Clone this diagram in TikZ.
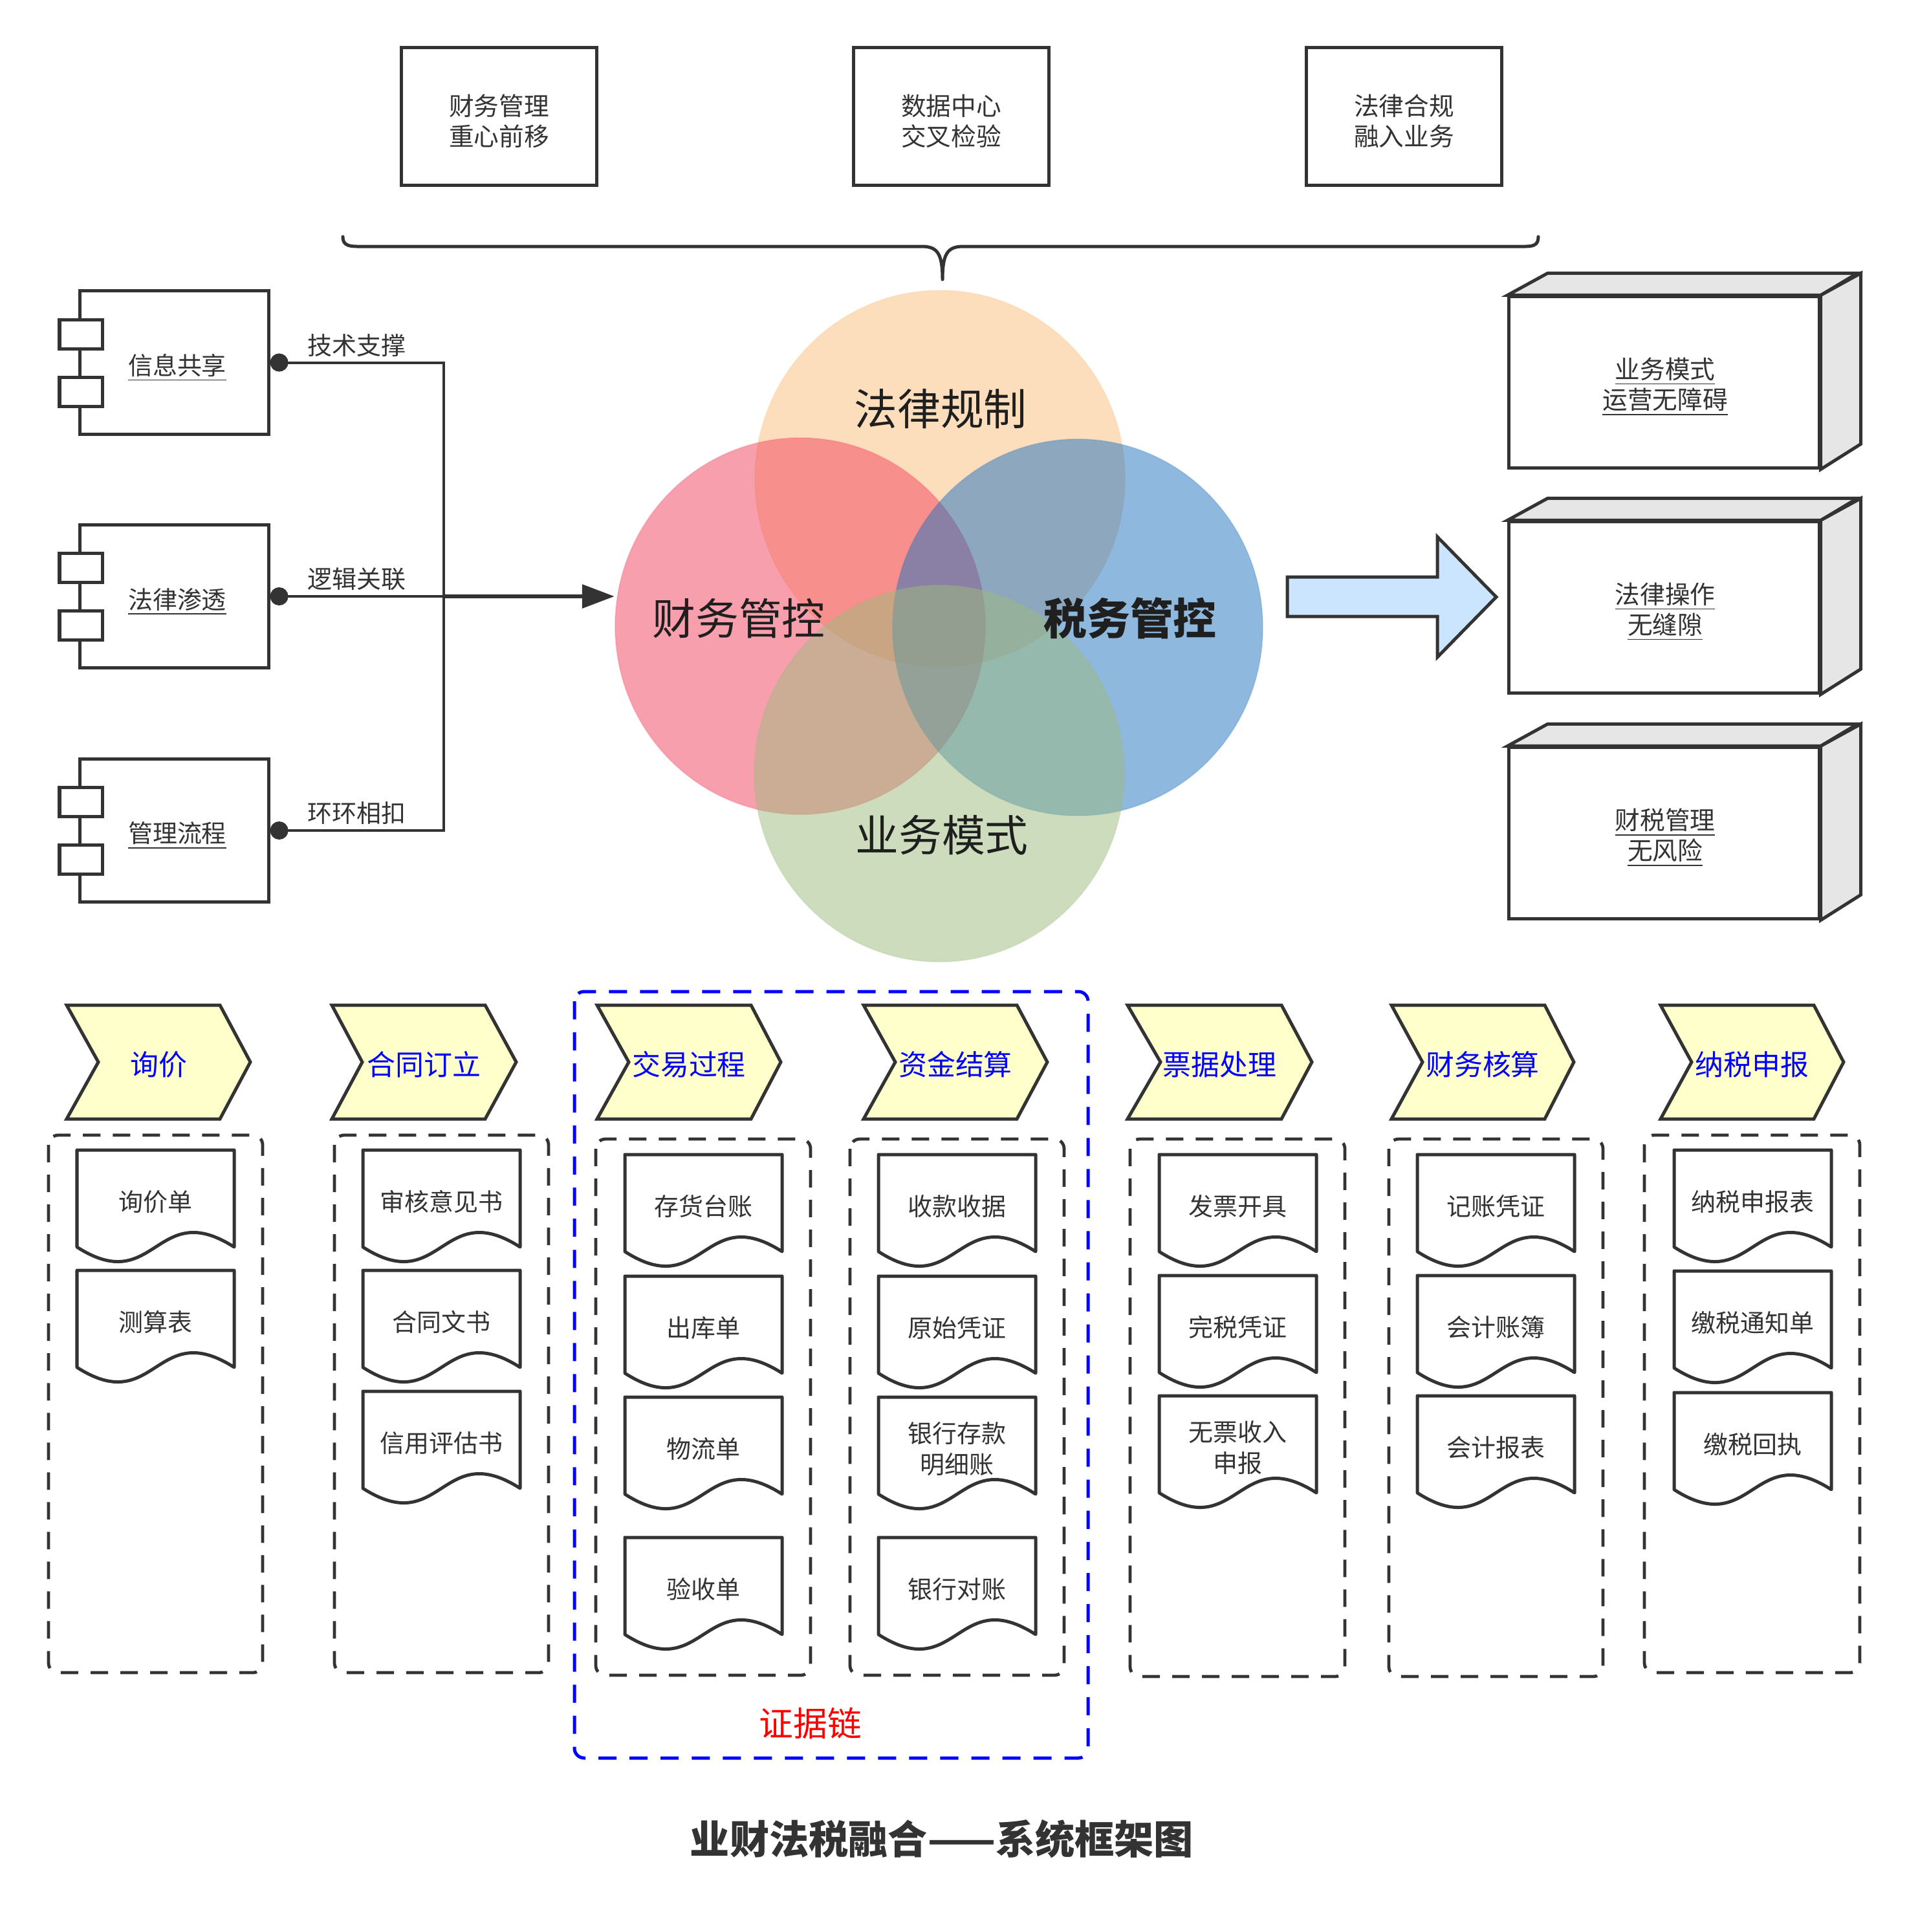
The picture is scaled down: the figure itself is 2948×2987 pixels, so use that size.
\documentclass[tikz,border=0pt]{standalone}
\usepackage{fontspec}
\setmainfont{Noto Sans CJK SC}
\usetikzlibrary{arrows.meta,shapes.geometric}
\definecolor{ln}{HTML}{333333}
\definecolor{chevY}{HTML}{FFFFCC}
\definecolor{arrowB}{HTML}{CCE5FF}
\definecolor{cubeG}{HTML}{E6E6E6}
\definecolor{vOrange}{HTML}{FBBF7D}
\definecolor{vPink}{HTML}{F3415D}
\definecolor{vBlue}{HTML}{1F73BF}
\definecolor{vGreen}{HTML}{9DBB7D}
\definecolor{pureblue}{HTML}{0000FF}
\definecolor{purered}{HTML}{FF0000}
\newcommand{\docbox}[4]{%
  \begin{scope}[shift={(#2,#3)}]
    \draw[docline] (0,0) -- (243,0) -- (243,150) .. controls (121.5,72) and (121.5,228) .. (0,150) -- cycle;
    \node[doctext] (#1) at (121.5,80) {#4};
  \end{scope}}
\newcommand{\chevron}[6]{% name, x0, x1(notch), x2, x3(tip), text
  \draw[chev] (#2,1554) -- (#4,1554) -- (#5,1642) -- (#4,1730) -- (#2,1730) -- (#3,1642) -- cycle;
  \node[chevtext] (#1) at ({(#2+#5)/2},1646) {#6};}
\begin{document}
\begin{tikzpicture}[x=0.01cm,y=-0.01cm,
  comp/.style={draw=ln, line width=0.05cm, minimum width=2.91cm, minimum height=2.21cm, inner sep=0pt, fill=white},
  comptext/.style={text=ln, inner sep=0pt, font=\fontsize{10.8}{13.5}\selectfont},
  smallrect/.style={draw=ln, line width=0.05cm, fill=white},
  lbl/.style={text=ln, font=\fontsize{10.8}{13.5}\selectfont, inner sep=2pt},
  conn/.style={draw=ln, line width=0.04cm},
  doctext/.style={align=center, text=ln, inner sep=0pt, font=\fontsize{10.8}{13.7}\selectfont},
  docline/.style={draw=ln, line width=0.05cm, fill=white, line join=round},
  chev/.style={draw=ln, line width=0.05cm, fill=chevY, line join=miter},
  chevtext/.style={text=pureblue, inner sep=0pt, font=\fontsize{12.5}{15}\selectfont},
  dbox/.style={draw=ln, line width=0.048cm, dash pattern=on 0.27cm off 0.19cm, rounded corners=0.15cm},
  bluebox/.style={draw=pureblue, line width=0.05cm, dash pattern=on 0.28cm off 0.2cm, rounded corners=0.15cm},
  cube/.style={draw=ln, line width=0.05cm, minimum width=4.79cm, minimum height=2.64cm, fill=white, inner sep=0pt},
  cubetext/.style={align=center, text=ln, inner sep=0pt, font=\fontsize{11}{13.4}\selectfont},
  cubeface/.style={draw=ln, line width=0.05cm, fill=cubeG, line join=miter},
  topbox/.style={draw=ln, line width=0.05cm, minimum width=3.01cm, minimum height=2.12cm, inner sep=0pt},
  toptext/.style={align=center, text=ln, inner sep=0pt, font=\fontsize{11}{13.4}\selectfont},
  venn/.style={ellipse, minimum width=5.72cm, minimum height=5.82cm, inner sep=0pt, fill opacity=0.5, draw opacity=0.15, line width=0.02cm},
  vtext/.style={text=black!88, inner sep=0pt, font=\fontsize{19}{22}\selectfont}
]
\useasboundingbox (0,0) rectangle (2948,2987);
\fill[white] (0,0) rectangle (2948,2987);

% top boxes
\foreach \n/\cx/\ta/\tb in {t1/771.5/财务管理/重心前移, t2/1470.5/数据中心/交叉检验, t3/2170.5/法律合规/融入业务}{
  \node[topbox] (\n) at (\cx,180) {};
  \node[toptext] (\n txt) at (\cx,187) {\ta\\\tb};
}

% brace
\draw[draw=ln, line width=0.05cm, line cap=round, line join=round]
  (530,366) .. controls (530,377) and (536,381) .. (552,381) -- (1425,381)
  .. controls (1449,381) and (1457,392) .. (1457,432)
  .. controls (1457,392) and (1465,381) .. (1489,381) -- (2358,381)
  .. controls (2373,381) and (2378,377) .. (2378,366);

% venn
\node[venn, fill=vOrange, draw=vOrange] (vO) at (1453,740) {};
\node[venn, fill=vPink, draw=vPink] (vP) at (1237,968) {};
\node[venn, fill=vBlue, draw=vBlue] (vB) at (1666,970) {};
\node[venn, fill=vGreen, draw=vGreen] (vG) at (1452,1196) {};
\node[vtext] (lO) at (1454,632) {法律规制};
\node[vtext] (lP) at (1142,956) {财务管控};
\node[vtext, font=\bfseries\fontsize{19}{22}\selectfont] (lB) at (1747,956) {税务管控};
\node[vtext] (lG) at (1456,1291) {业务模式};

% components on the left
\foreach \n/\cy/\t in {c1/560.5/信息共享, c2/922/法律渗透, c3/1284/管理流程}{
  \node[comp] (\n) at (269.5,\cy) {};
  \node[comptext] (\n txt) at (274,\cy+8) {\underline{\t}};
  \draw[smallrect] (92,\cy-66.5) rectangle (158,\cy-21.5);
  \draw[smallrect] (92,\cy+22.5) rectangle (158,\cy+67.5);
}
\coordinate (j) at (686,922);
\draw[conn, {Circle[length=0.28cm]}-] (c1.east) -| node[lbl, above, pos=0.25] {技术支撑} (j);
\draw[conn, {Circle[length=0.28cm]}-] (c3.east) -| node[lbl, above, pos=0.25] {环环相扣} (j);
\draw[conn, {Circle[length=0.28cm]}-] (c2.east) -- node[lbl, above] {逻辑关联} (j);
\draw[draw=ln, line width=0.06cm, -{Triangle[length=0.5cm,width=0.36cm]}] (j) -- (j -| vP.west);

% big arrow
\draw[draw=ln, line width=0.05cm, fill=arrowB, line join=miter]
  (1990,892) -- (2222,892) -- (2222,830) -- (2313,923) -- (2222,1016) -- (2222,953) -- (1990,953) -- cycle;

% cubes
\foreach \n/\cy/\ta/\tb in {k1/591/业务模式/运营无障碍, k2/939/法律操作/无缝隙, k3/1288/财税管理/无风险}{
  \node[cube] (\n) at (2572.5,\cy) {};
  \node[cubetext] (\n txt) at (2574,\cy+7) {\underline{\ta}\\\underline{\tb}};
  \draw[cubeface] (\n.north west) -- ++(62,-34) -- ++(479,0) -- (\n.north east) -- cycle;
  \draw[cubeface] (\n.north east) -- ++(62,-34) -- ++(0,264) -- (\n.south east) -- cycle;
}

% blue evidence-chain frame
\draw[bluebox] (888,1533) rectangle (1682,2718);
\node[text=purered, inner sep=0pt, font=\fontsize{15}{18}\selectfont] (chain) at (1253,2664) {证据链};

% chevrons
\chevron{h1}{103}{152}{340}{387}{询价}
\chevron{h2}{513}{560}{750}{798}{合同订立}
\chevron{h3}{923}{972}{1161}{1207}{交易过程}
\chevron{h4}{1335}{1384}{1572}{1619}{资金结算}
\chevron{h5}{1743}{1794}{1981}{2028}{票据处理}
\chevron{h6}{2151}{2199}{2388}{2433}{财务核算}
\chevron{h7}{2567}{2615}{2804}{2850}{纳税申报}

% dashed columns
\draw[dbox] (75,1755) rectangle (406,2586);
\draw[dbox] (517,1755) rectangle (848,2586);
\draw[dbox] (921,1761) rectangle (1253,2590);
\draw[dbox] (1314,1761) rectangle (1645,2590);
\draw[dbox] (1747,1761) rectangle (2079,2592);
\draw[dbox] (2147,1761) rectangle (2478,2592);
\draw[dbox] (2542,1755) rectangle (2875,2586);

% documents
\docbox{d11}{119}{1778}{询价单}
\docbox{d12}{119}{1964}{测算表}
\docbox{d21}{561}{1778}{审核意见书}
\docbox{d22}{561}{1964}{合同文书}
\docbox{d23}{561}{2151}{信用评估书}
\docbox{d31}{966}{1785}{存货台账}
\docbox{d32}{966}{1973}{出库单}
\docbox{d33}{966}{2160}{物流单}
\docbox{d34}{966}{2377}{验收单}
\docbox{d41}{1358}{1785}{收款收据}
\docbox{d42}{1358}{1973}{原始凭证}
\docbox{d43}{1358}{2160}{银行存款\\明细账}
\docbox{d44}{1358}{2377}{银行对账}
\docbox{d51}{1792}{1785}{发票开具}
\docbox{d52}{1792}{1972}{完税凭证}
\docbox{d53}{1792}{2158}{无票收入\\申报}
\docbox{d61}{2191}{1785}{记账凭证}
\docbox{d62}{2191}{1972}{会计账簿}
\docbox{d63}{2191}{2158}{会计报表}
\docbox{d71}{2588}{1778}{纳税申报表}
\docbox{d72}{2588}{1965}{缴税通知单}
\docbox{d73}{2588}{2153}{缴税回执}

% title
\node[text=ln, inner sep=0pt, font=\bfseries\fontsize{17.4}{20}\selectfont] (title) at (1456,2843) {业财法税融合——系统框架图};
\end{tikzpicture}
\end{document}
